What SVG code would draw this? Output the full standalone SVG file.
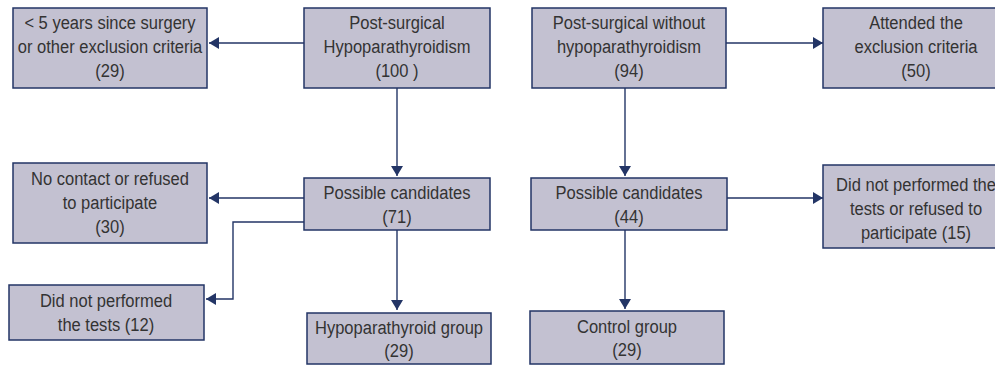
<svg xmlns="http://www.w3.org/2000/svg" width="995" height="366" viewBox="0 0 995 366">
<defs>
<style>
.box{fill:#c3c1d1;stroke:#233566;stroke-width:1.5}
.t{font-family:"Liberation Sans",Arial,sans-serif;font-size:19px;fill:#333333;text-anchor:middle}
.c{fill:none;stroke:#233566;stroke-width:1.4}
</style>
<marker id="ah" viewBox="0 0 10 12" refX="10" refY="6" markerWidth="10" markerHeight="12" markerUnits="userSpaceOnUse" orient="auto">
<path d="M0,0 L10,6 L0,12 Z" fill="#233566"/>
</marker>
</defs>
<rect width="995" height="366" fill="#ffffff"/>
<g id="connectors">
<line class="c" x1="304" y1="43" x2="209" y2="43" marker-end="url(#ah)"/>
<line class="c" x1="726" y1="43" x2="823" y2="43" marker-end="url(#ah)"/>
<line class="c" x1="397" y1="88" x2="397" y2="176" marker-end="url(#ah)"/>
<line class="c" x1="625" y1="88" x2="625" y2="176" marker-end="url(#ah)"/>
<line class="c" x1="304" y1="198" x2="209" y2="198" marker-end="url(#ah)"/>
<polyline class="c" points="304,222 233,222 233,299 206,299" marker-end="url(#ah)"/>
<line class="c" x1="397" y1="230" x2="397" y2="310" marker-end="url(#ah)"/>
<line class="c" x1="727" y1="198" x2="823" y2="198" marker-end="url(#ah)"/>
<line class="c" x1="625" y1="230" x2="625" y2="309" marker-end="url(#ah)"/>
</g>
<g id="n_excl1">
<rect class="box" x="13" y="8" width="194" height="80"/>
<text class="t" transform="translate(110,29) scale(0.87,1)">&lt; 5 years since surgery</text>
<text class="t" transform="translate(110,53) scale(0.87,1)">or other exclusion criteria</text>
<text class="t" transform="translate(110,77) scale(0.87,1)">(29)</text>
</g>
<g id="n_hypo">
<rect class="box" x="304" y="8" width="186" height="80"/>
<text class="t" transform="translate(397,29) scale(0.87,1)">Post-surgical</text>
<text class="t" transform="translate(397,53) scale(0.87,1)">Hypoparathyroidism</text>
<text class="t" transform="translate(397,77) scale(0.87,1)">(100 )</text>
</g>
<g id="n_nohypo">
<rect class="box" x="532" y="8" width="194" height="80"/>
<text class="t" transform="translate(629,29) scale(0.87,1)">Post-surgical without</text>
<text class="t" transform="translate(629,53) scale(0.87,1)">hypoparathyroidism</text>
<text class="t" transform="translate(629,77) scale(0.87,1)">(94)</text>
</g>
<g id="n_excl2">
<rect class="box" x="823" y="8" width="186" height="80"/>
<text class="t" transform="translate(916,29) scale(0.87,1)">Attended the</text>
<text class="t" transform="translate(916,53) scale(0.87,1)">exclusion criteria</text>
<text class="t" transform="translate(916,77) scale(0.87,1)">(50)</text>
</g>
<g id="n_nocontact">
<rect class="box" x="13" y="163" width="194" height="80"/>
<text class="t" transform="translate(110,185) scale(0.87,1)">No contact or refused</text>
<text class="t" transform="translate(110,209) scale(0.87,1)">to participate</text>
<text class="t" transform="translate(110,233) scale(0.87,1)">(30)</text>
</g>
<g id="n_cand1">
<rect class="box" x="304" y="178" width="186" height="52"/>
<text class="t" transform="translate(397,199) scale(0.87,1)">Possible candidates</text>
<text class="t" transform="translate(397,223) scale(0.87,1)">(71)</text>
</g>
<g id="n_cand2">
<rect class="box" x="531" y="178" width="196" height="52"/>
<text class="t" transform="translate(629,199) scale(0.87,1)">Possible candidates</text>
<text class="t" transform="translate(629,223) scale(0.87,1)">(44)</text>
</g>
<g id="n_notests2">
<rect class="box" x="823" y="165" width="186" height="83"/>
<text class="t" transform="translate(916,191) scale(0.87,1)">Did not performed the</text>
<text class="t" transform="translate(916,215) scale(0.87,1)">tests or refused to</text>
<text class="t" transform="translate(916,239) scale(0.87,1)">participate (15)</text>
</g>
<g id="n_notests1">
<rect class="box" x="9" y="285" width="195" height="55"/>
<text class="t" transform="translate(106,307) scale(0.87,1)">Did not performed</text>
<text class="t" transform="translate(106,331) scale(0.87,1)">the tests (12)</text>
</g>
<g id="n_hypogroup">
<rect class="box" x="307" y="313" width="184" height="51"/>
<text class="t" transform="translate(399,334) scale(0.87,1)">Hypoparathyroid group</text>
<text class="t" transform="translate(399,357) scale(0.87,1)">(29)</text>
</g>
<g id="n_control">
<rect class="box" x="530" y="311" width="194" height="53"/>
<text class="t" transform="translate(627,333) scale(0.87,1)">Control group</text>
<text class="t" transform="translate(627,356) scale(0.87,1)">(29)</text>
</g>
</svg>
